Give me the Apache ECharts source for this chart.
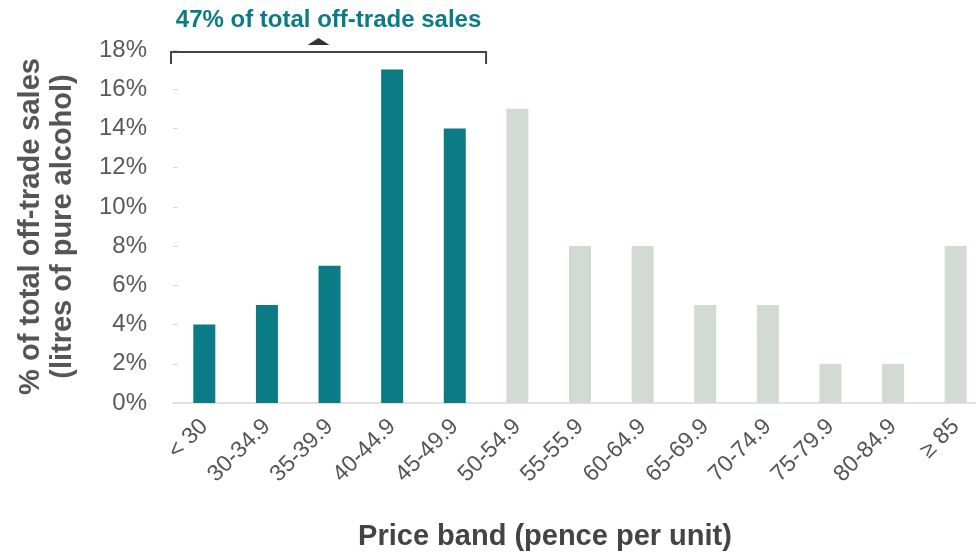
<!DOCTYPE html>
<html>
<head>
<meta charset="utf-8">
<script src="https://cdn.jsdelivr.net/npm/echarts@6/dist/echarts.min.js"></script>
<style>
html, body { margin: 0; padding: 0; background: #fff; }
#chart { width: 976px; height: 553px; }
</style>
</head>
<body>
<div id="chart"></div>
<script>
// price bands and share of off-trade sales (%)
const bands = ['< 30', '30-34.9', '35-39.9', '40-44.9', '45-49.9', '50-54.9', '55-55.9',
  '60-64.9', '65-69.9', '70-74.9', '75-79.9', '80-84.9', '≥ 85'];
const shares = [4, 5, 7, 17, 14, 15, 8, 8, 5, 5, 2, 2, 8];
// first bands covered by the bracket
const highlightCount = 5;
const bracketLabel = '47% of total off-trade sales';

const teal = '#0b7b86';
const grey = '#d3dad5';
const font = 'Liberation Sans, Arial, sans-serif';

const chart = echarts.init(document.getElementById('chart'));
chart.setOption({
  animation: false,
  textStyle: { fontFamily: font },
  grid: { left: 173, right: -11, top: 50, bottom: 150, containLabel: false, outerBoundsMode: 'none' },
  xAxis: {
    type: 'category',
    data: bands,
    axisLine: { show: true, lineStyle: { color: '#e2e2e2', width: 2 } },
    axisTick: { show: false },
    axisLabel: { rotate: 45, fontSize: 23, color: '#555', margin: 20, interval: 0, fontFamily: font }
  },
  yAxis: {
    type: 'value',
    min: 0,
    max: 18,
    interval: 2,
    name: '% of total off-trade sales\n(litres of pure alcohol)',
    nameLocation: 'middle',
    nameRotate: 90,
    nameGap: 94,
    nameTextStyle: { fontSize: 29, fontWeight: 'bold', color: '#555', lineHeight: 32, fontFamily: font },
    axisLine: { show: false },
    axisTick: { show: true, inside: true, length: 5, lineStyle: { color: '#d8d8d8' } },
    splitLine: { show: false },
    axisLabel: { formatter: '{value}%', fontSize: 24, color: '#5a5a5a', margin: 26, fontFamily: font }
  },
  series: [{
    type: 'bar',
    barWidth: 22,
    data: shares.map((v, i) => ({ value: v, itemStyle: { color: i < highlightCount ? teal : grey } }))
  }]
});

// bracket over the highlighted bands, drawn from axis positions
const c0 = chart.convertToPixel({ xAxisIndex: 0 }, 0);
const c1 = chart.convertToPixel({ xAxisIndex: 0 }, 1);
const half = (c1 - c0) / 2;
const x0 = c0 - half - 2;
const x1 = chart.convertToPixel({ xAxisIndex: 0 }, highlightCount - 1) + half;
const yTop = chart.convertToPixel({ yAxisIndex: 0 }, 18) + 2;
const mid = (x0 + x1) / 2 - 10;

chart.setOption({
  graphic: [
    {
      type: 'polyline',
      shape: { points: [[x0, yTop + 12], [x0, yTop], [x1, yTop], [x1, yTop + 12]] },
      style: { stroke: '#444', lineWidth: 2, fill: null }
    },
    {
      type: 'polygon',
      shape: { points: [[mid - 11, yTop - 7], [mid + 11, yTop - 7], [mid, yTop - 14]] },
      style: { fill: '#333' }
    },
    {
      type: 'text',
      x: (x0 + x1) / 2,
      y: 20,
      style: { text: bracketLabel, fill: teal, font: 'bold 24px ' + font, textAlign: 'center', textVerticalAlign: 'middle' }
    },
    {
      type: 'text',
      x: 545,
      y: 537,
      style: { text: 'Price band (pence per unit)', fill: '#444', font: 'bold 29px ' + font, textAlign: 'center', textVerticalAlign: 'middle' }
    }
  ]
});
</script>
</body>
</html>
